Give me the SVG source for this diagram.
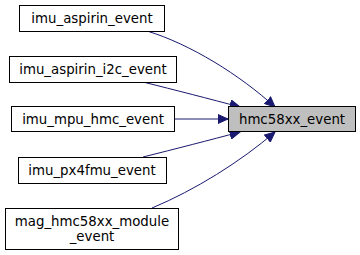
<svg xmlns="http://www.w3.org/2000/svg" width="360" height="255" viewBox="0 0 360 255">
  <style>
    .node rect { fill: #ffffff; stroke: #000000; stroke-width: 1; }
    .node.current rect { fill: #bfbfbf; }
    .node text { font-family: "DejaVu Sans", sans-serif; font-size: 13.33px; fill: #000000; text-anchor: middle; }
    .edge { fill: none; stroke: #191970; stroke-width: 1; }
  </style>
  <defs>
    <marker id="arrow" viewBox="0 0 11 10" refX="10.5" refY="5" markerWidth="11" markerHeight="10" markerUnits="userSpaceOnUse" orient="auto">
      <path d="M0.5,0.5 L10.5,5 L0.5,9.5 Z" fill="#191970" stroke="#191970"/>
    </marker>
  </defs>

  <g id="connectors">
    <path class="edge" marker-end="url(#arrow)" d="M147,31 C190,44 240,75 275,107"/>
    <path class="edge" marker-end="url(#arrow)" d="M143,82 C175,90 210,99 240,107"/>
    <path class="edge" marker-end="url(#arrow)" d="M175,119 L228,119"/>
    <path class="edge" marker-end="url(#arrow)" d="M143,157 C175,149 210,140 240,132"/>
    <path class="edge" marker-end="url(#arrow)" d="M152,208 C195,190 240,162 275,132"/>
  </g>

  <g id="hmc58xx_event" class="node current">
    <rect x="228.5" y="106.5" width="127" height="25"/>
    <text x="292" y="123.5">hmc58xx_event</text>
  </g>
  <g id="imu_aspirin_event" class="node">
    <rect x="19.5" y="5.5" width="145" height="26"/>
    <text x="92" y="23">imu_aspirin_event</text>
  </g>
  <g id="imu_aspirin_i2c_event" class="node">
    <rect x="9.5" y="56.5" width="167" height="26"/>
    <text x="93" y="74">imu_aspirin_i2c_event</text>
  </g>
  <g id="imu_mpu_hmc_event" class="node">
    <rect x="11.5" y="106.5" width="163" height="25"/>
    <text x="93" y="123.5">imu_mpu_hmc_event</text>
  </g>
  <g id="imu_px4fmu_event" class="node">
    <rect x="18.5" y="157.5" width="148" height="26"/>
    <text x="92" y="175">imu_px4fmu_event</text>
  </g>
  <g id="mag_hmc58xx_module_event" class="node">
    <rect x="5.5" y="208.5" width="173" height="41"/>
    <text x="92" y="225.5">mag_hmc58xx_module</text>
    <text x="92" y="240.5">_event</text>
  </g>
</svg>
